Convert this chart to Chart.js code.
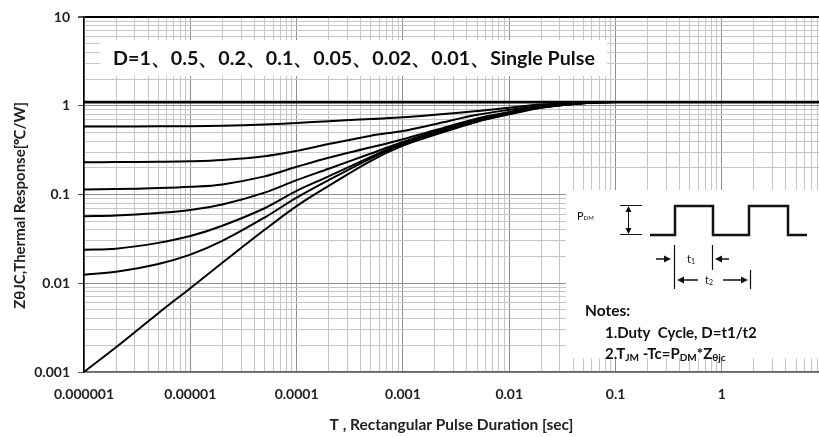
<!DOCTYPE html>
<html>
<head>
<meta charset="utf-8">
<script src="https://cdn.jsdelivr.net/npm/chart.js@4.4.1/dist/chart.umd.min.js"></script>
<style>
  html, body { margin: 0; padding: 0; background: #fff; }
  #wrap { width: 819px; height: 437px; position: relative; }
</style>
</head>
<body>
<div id="wrap"><canvas id="zthChart"></canvas></div>
<script>
// pulse widths (sec)
const pulseTimes = [1e-6, 2e-6, 5e-6, 1e-5, 2e-5, 5e-5, 1e-4, 2e-4, 5e-4, 1e-3, 2e-3, 5e-3, 1e-2, 2e-2, 5e-2, 1e-1, 1, 8.2];

// Z(th)jc for each duty cycle
const zD1     = [1.1, 1.1, 1.1, 1.1, 1.1, 1.1, 1.1, 1.1, 1.1, 1.1, 1.1, 1.1, 1.1, 1.1, 1.1, 1.1, 1.1, 1.1];
const zD05    = [0.585, 0.585, 0.586, 0.588, 0.595, 0.615, 0.64, 0.67, 0.71, 0.74, 0.79, 0.87, 0.95, 1.03, 1.09, 1.1, 1.1, 1.1];
const zD02    = [0.231, 0.232, 0.234, 0.237, 0.245, 0.27, 0.31, 0.37, 0.46, 0.52, 0.62, 0.79, 0.9, 1.0, 1.08, 1.1, 1.1, 1.1];
const zD01    = [0.114, 0.115, 0.118, 0.122, 0.13, 0.16, 0.205, 0.26, 0.34, 0.42, 0.53, 0.72, 0.85, 0.98, 1.08, 1.1, 1.1, 1.1];
const zD005   = [0.057, 0.058, 0.062, 0.067, 0.077, 0.105, 0.145, 0.195, 0.29, 0.39, 0.51, 0.7, 0.83, 0.97, 1.075, 1.1, 1.1, 1.1];
const zD002   = [0.0238, 0.0245, 0.0285, 0.034, 0.0445, 0.07, 0.11, 0.16, 0.265, 0.38, 0.49, 0.68, 0.82, 0.96, 1.07, 1.1, 1.1, 1.1];
const zD001   = [0.0125, 0.0135, 0.0165, 0.021, 0.03, 0.055, 0.092, 0.145, 0.255, 0.37, 0.48, 0.67, 0.81, 0.955, 1.07, 1.1, 1.1, 1.1];
const zSingle = [0.001, 0.0019, 0.0046, 0.0088, 0.017, 0.04, 0.074, 0.125, 0.24, 0.355, 0.47, 0.66, 0.8, 0.95, 1.065, 1.1, 1.1, 1.1];

const seriesNames = ['D=1', 'D=0.5', 'D=0.2', 'D=0.1', 'D=0.05', 'D=0.02', 'D=0.01', 'Single Pulse'];
const seriesValues = [zD1, zD05, zD02, zD01, zD005, zD002, zD001, zSingle];

// axes
const xDecades = [1e-6, 1e-5, 1e-4, 1e-3, 1e-2, 1e-1, 1];
const xTickLabels = ['0.000001', '0.00001', '0.0001', '0.001', '0.01', '0.1', '1'];
const yDecades = [0.001, 0.01, 0.1, 1, 10];
const yTickLabels = ['0.001', '0.01', '0.1', '1', '10'];
const minorSteps = [1, 2, 3, 4, 5, 6, 7, 8, 9];

const legendText = 'D=1、0.5、0.2、0.1、0.05、0.02、0.01、Single Pulse';

const FONT = 'Lato, "Open Sans", sans-serif';

function buildLogTicks(decades, max) {
    const out = [];
    for (let d of decades) {
        for (let m of minorSteps) {
            const v = d * m;
            if (v <= max * 1.0001) out.push({ value: v });
        }
    }
    return out;
}

function isDecade(v) {
    const l = Math.log10(v);
    return Math.abs(l - Math.round(l)) < 1e-6;
}

function decadeLabel(value, decades, labels) {
    const i = decades.findIndex(d => Math.abs(d - value) / d < 1e-6);
    return i >= 0 ? labels[i] : '';
}

// text with subscripts: runs = [[text, isSub], ...]
function drawRuns(ctx, runs, x, y, size, subSize, weight) {
    let cx = x;
    for (let r of runs) {
        ctx.font = weight + ' ' + (r[1] ? subSize : size) + 'px ' + FONT;
        ctx.fillText(r[0], cx, r[1] ? y + size * 0.22 : y);
        cx += ctx.measureText(r[0]).width;
    }
}

function arrow(ctx, x1, y, x2) {
    // horizontal arrow from x1 to x2, head at x2
    const dir = x2 > x1 ? 1 : -1;
    ctx.beginPath();
    ctx.moveTo(x1, y);
    ctx.lineTo(x2 - dir * 5, y);
    ctx.stroke();
    ctx.beginPath();
    ctx.moveTo(x2, y);
    ctx.lineTo(x2 - dir * 7, y - 3.5);
    ctx.lineTo(x2 - dir * 7, y + 3.5);
    ctx.closePath();
    ctx.fill();
}

const notesPlugin = {
    id: 'notes',
    afterDraw(chart) {
        const ctx = chart.ctx;
        ctx.save();

        // legend strip
        ctx.fillStyle = '#fff';
        ctx.fillRect(100, 40, 507, 36);
        ctx.fillStyle = '#111';
        ctx.font = 'bold 19.7px ' + FONT;
        ctx.textBaseline = 'middle';
        ctx.fillText(legendText, 113, 59);

        // inset box
        ctx.fillStyle = '#fff';
        ctx.fillRect(566, 190, 253, 168);

        ctx.strokeStyle = '#111';
        ctx.fillStyle = '#111';

        // P_DM label
        drawRuns(ctx, [['P', false], ['DM', true]], 577, 216, 11, 6, 'normal');

        // amplitude bracket
        ctx.lineWidth = 1;
        ctx.beginPath();
        ctx.moveTo(620, 205.5); ctx.lineTo(642, 205.5);
        ctx.moveTo(620, 234.5); ctx.lineTo(642, 234.5);
        ctx.moveTo(628.5, 209); ctx.lineTo(628.5, 231);
        ctx.stroke();
        ctx.beginPath();
        ctx.moveTo(628.5, 206); ctx.lineTo(625.5, 212); ctx.lineTo(631.5, 212); ctx.closePath();
        ctx.moveTo(628.5, 234); ctx.lineTo(625.5, 228); ctx.lineTo(631.5, 228); ctx.closePath();
        ctx.fill();

        // pulse train
        ctx.lineWidth = 2.5;
        ctx.beginPath();
        ctx.moveTo(650, 235);
        ctx.lineTo(675, 235); ctx.lineTo(675, 206); ctx.lineTo(713, 206); ctx.lineTo(713, 235);
        ctx.lineTo(749, 235); ctx.lineTo(749, 206); ctx.lineTo(788, 206); ctx.lineTo(788, 235);
        ctx.lineTo(807, 235);
        ctx.stroke();

        // t1 / t2 markers
        ctx.lineWidth = 1.2;
        ctx.beginPath();
        ctx.moveTo(674.5, 245); ctx.lineTo(674.5, 289);
        ctx.moveTo(712.5, 245); ctx.lineTo(712.5, 270);
        ctx.moveTo(750.5, 270); ctx.lineTo(750.5, 289);
        ctx.stroke();
        ctx.lineWidth = 1.5;
        arrow(ctx, 656, 259, 671);
        arrow(ctx, 729, 259, 715);
        arrow(ctx, 698, 280, 677);
        arrow(ctx, 723, 280, 748);
        drawRuns(ctx, [['t', false], ['1', true]], 687, 259, 11, 7, 'normal');
        drawRuns(ctx, [['t', false], ['2', true]], 705, 280, 11, 7, 'normal');

        // notes
        ctx.font = 'bold 15.5px ' + FONT;
        ctx.fillText('Notes:', 585, 311);
        ctx.font = 'bold 15px ' + FONT;
        ctx.fillText('1.Duty  Cycle, D=t1/t2', 605, 333);
        drawRuns(ctx, [['2.T', false], ['JM', true], [' -Tc=P', false], ['DM', true], ['*Z', false], ['θjc', true]],
            605, 354, 15, 10, 'bold');

        ctx.restore();
    }
};

const datasets = seriesValues.map((vals, i) => ({
    label: seriesNames[i],
    data: pulseTimes.map((t, k) => ({ x: t, y: vals[k] })),
    borderColor: '#000',
    borderWidth: i === 0 ? 2.8 : 2,
    pointRadius: 0,
    fill: false,
    tension: 0.35
}));

const ctx = document.getElementById('zthChart').getContext('2d');
new Chart(ctx, {
    type: 'line',
    data: { datasets: datasets },
    options: {
        responsive: true,
        maintainAspectRatio: false,
        animation: false,
        layout: { padding: { top: 17, right: 0, left: 0, bottom: 0 } },
        plugins: {
            legend: { display: false },
            tooltip: { enabled: false }
        },
        scales: {
            x: {
                type: 'logarithmic',
                min: 1e-6,
                max: 8.2,
                afterBuildTicks: s => { s.ticks = buildLogTicks(xDecades, s.max); },
                afterFit: s => { s.height = 65; s.paddingRight = 0; },
                ticks: {
                    autoSkip: false,
                    maxRotation: 0,
                    padding: 14,
                    color: '#222',
                    font: { family: FONT, size: 14, weight: 'bold' },
                    callback: v => decadeLabel(v, xDecades, xTickLabels)
                },
                grid: {
                    drawTicks: false,
                    color: c => (c.tick && isDecade(c.tick.value)) ? '#8f8f8f' : '#c6c6c6',
                    lineWidth: 1
                },
                border: { color: '#666', width: 1.5 },
                title: {
                    display: true,
                    text: 'T , Rectangular Pulse Duration [sec]',
                    color: '#222',
                    font: { family: FONT, size: 15.5, weight: 'bold' },
                    padding: { top: 0, bottom: 3 }
                }
            },
            y: {
                type: 'logarithmic',
                min: 0.001,
                max: 10,
                afterBuildTicks: s => { s.ticks = buildLogTicks(yDecades, s.max); },
                afterFit: s => { s.width = 84; },
                ticks: {
                    autoSkip: false,
                    padding: 8,
                    color: '#222',
                    font: { family: FONT, size: 14, weight: 'bold' },
                    callback: v => decadeLabel(v, yDecades, yTickLabels)
                },
                grid: {
                    tickLength: 6,
                    color: c => {
                        if (!c.tick) return '#c6c6c6';
                        if (c.tick.value >= 10) return '#000';
                        return isDecade(c.tick.value) ? '#8f8f8f' : '#c6c6c6';
                    },
                    lineWidth: c => (c.tick && c.tick.value >= 10) ? 2 : 1,
                    tickColor: c => (c.tick && isDecade(c.tick.value)) ? '#555' : 'rgba(0,0,0,0)'
                },
                border: { color: '#000', width: 1.5 },
                title: {
                    display: true,
                    text: 'ZθJC,Thermal Response[℃/W]      ',
                    color: '#222',
                    font: { family: FONT, size: 15, weight: 'bold' },
                    padding: { top: 11, bottom: 0 }
                }
            }
        }
    },
    plugins: [notesPlugin]
});
</script>
</body>
</html>
